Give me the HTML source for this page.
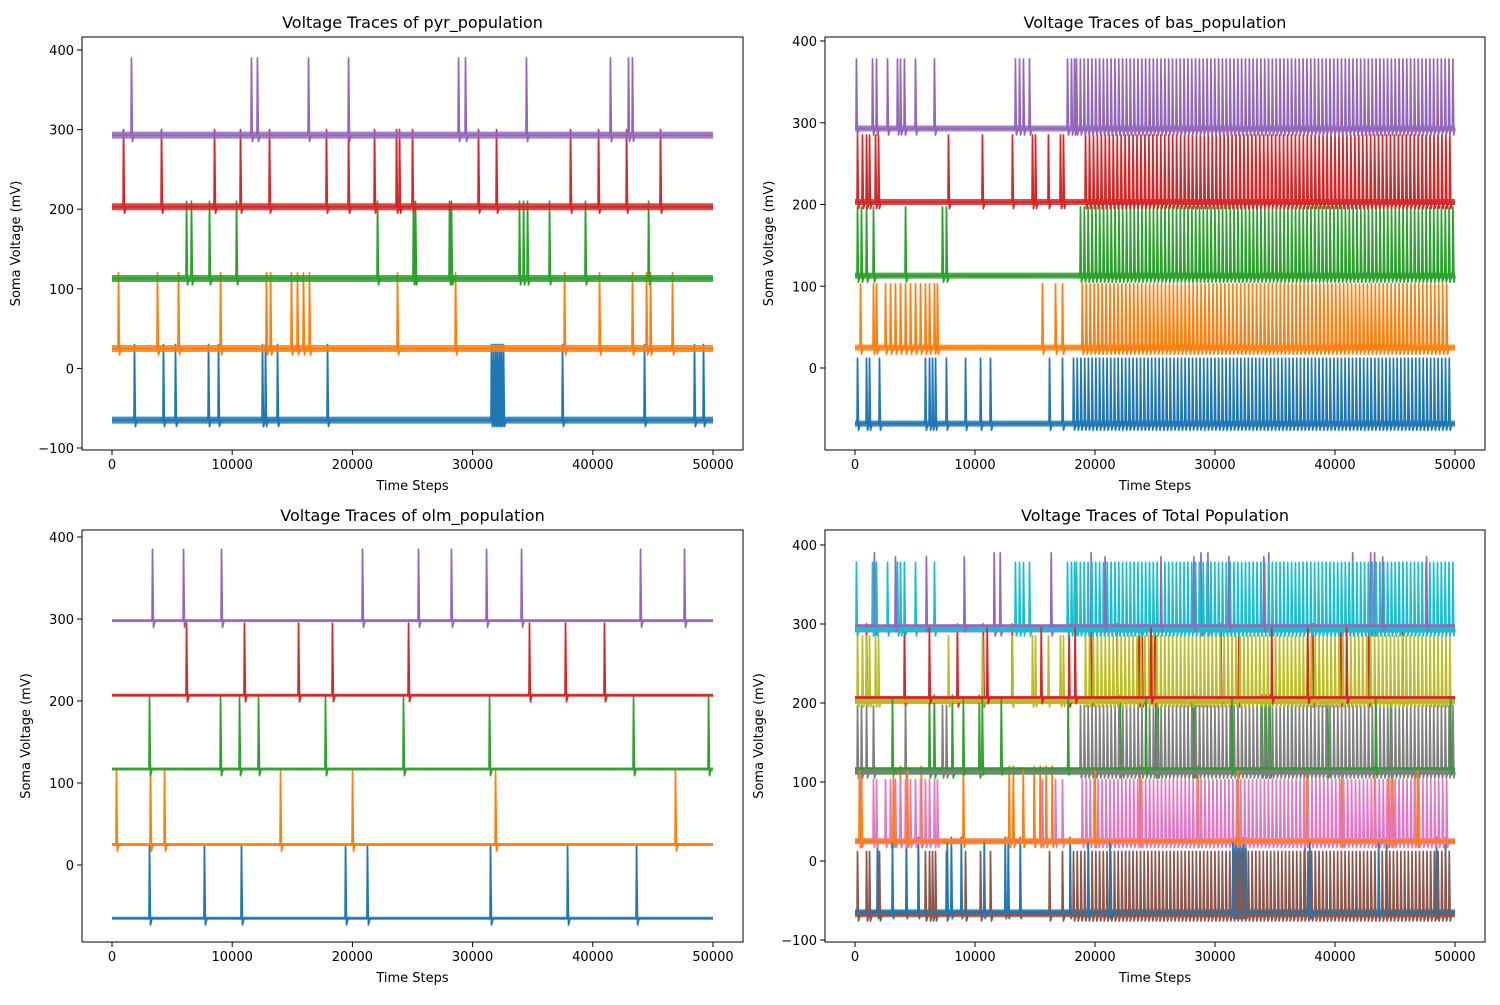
<!DOCTYPE html>
<html><head><meta charset="utf-8"><style>
body{margin:0;background:#fff;font-family:"Liberation Sans","DejaVu Sans",sans-serif;}
svg text{font-family:"DejaVu Sans","Liberation Sans",sans-serif;}
</style></head><body>
<svg id="fig" width="1500" height="1000" viewBox="0 0 1500 1000"></svg>
<script>
// ---- data ----
const pyrBase=[-65,25,113,203,293];
const pyrPeak=[30,120,210,300,390];
const pyrSpikes=[
[1830,4240,5240,7990,8820,12480,12730,13730,17890,31530,31700,31870,32030,32200,32360,32530,37440,44260,48420,49170],
[500,3740,5490,8990,12810,13150,14890,15390,15890,16390,23710,28540,37610,40520,43260,44430,44760,46590],
[6160,6570,8070,10320,22050,25040,25210,28040,28200,33860,34200,34530,36360,39350,44600],
[920,4080,8490,10650,13060,17800,19640,21800,23630,23880,24960,30450,31950,38110,40440,42770,45590],
[1580,11560,12060,16310,19640,28790,29370,34440,41430,42930,43260]];
const basBase=[-68,25,113,203,293];
const basPeak=[12,103,197,285,378];
const basSpikes=[
[170,920,1170,2000,5830,6170,6420,6670,7580,9170,10420,11250,16170,17250],
[420,1500,1750,2500,2920,3330,3750,4170,4580,5000,5420,5830,6170,6580,6830,15580,16670,17250],
[170,500,920,1500,4170,7250,7580],
[170,580,920,1170,1670,1920,7750,10580,13080,14750,15000,16080,17080,17330],
[80,1420,1750,2670,3500,3750,4080,5000,6580,13330,13670,14000,14500,17670,18000,18250]];
const basDenseStart=[18170,18900,18750,19170,18420];
const basDenseEnd=[49580,49400,50000,49580,50000];
const basDensePeriod=[310,330,320,330,320];
const olmBase=[-65,25,117,207,298];
const olmPeak=[25,115,205,295,385];
const olmSpikes=[
[3080,7650,10730,19390,21210,31450,37860,43600],
[330,3160,4330,13980,19970,31870,46840],
[3080,8990,10570,12150,17720,24210,31370,43350,49590],
[6160,10980,15480,18300,24630,34690,37690,40930],
[3330,5910,9070,20800,25460,28200,31120,34030,43930,47590]];
const xTicks=[0,10000,20000,30000,40000,50000];
const colors=['#1f77b4','#ff7f0e','#2ca02c','#d62728','#9467bd','#8c564b','#e377c2','#7f7f7f','#bcbd22','#17becf'];

const basAll=basSpikes.map((s,i)=>{const a=s.slice();for(let t=basDenseStart[i];t<=basDenseEnd[i];t+=basDensePeriod[i])a.push(t);return a;});

const NS='http://www.w3.org/2000/svg';
const svg=document.getElementById('fig');
function el(tag,attrs,parent){const e=document.createElementNS(NS,tag);for(const k in attrs)e.setAttribute(k,attrs[k]);(parent||svg).appendChild(e);return e;}

const panels=[
{title:'Voltage Traces of pyr_population',L:82,T:37,R:743,B:450,x0:112,x1:713,ya:400,yaP:50,yb:-100,ybP:448,yt:[-100,0,100,200,300,400],name:'pyr-panel'},
{title:'Voltage Traces of bas_population',L:825,T:37,R:1485,B:450,x0:855,x1:1455,ya:400,yaP:41,yb:0,ybP:368,yt:[0,100,200,300,400],name:'bas-panel'},
{title:'Voltage Traces of olm_population',L:82,T:530,R:743,B:942,x0:112,x1:713,ya:400,yaP:537,yb:0,ybP:865,yt:[0,100,200,300,400],name:'olm-panel'},
{title:'Voltage Traces of Total Population',L:825,T:530,R:1485,B:942,x0:855,x1:1455,ya:400,yaP:545,yb:-100,ybP:940,yt:[-100,0,100,200,300,400],name:'total-panel'}];

function drawTrace(g,p,base,peak,spikes,color,band,nm){
  const X=t=>p.x0+(p.x1-p.x0)*t/50000;
  const Y=v=>p.ybP+(v-p.yb)*(p.yaP-p.ybP)/(p.ya-p.yb);
  const b=el('line',{x1:X(0),x2:X(50000),y1:Y(base),y2:Y(base),stroke:color,'stroke-width':band,'stroke-opacity':0.85},g);
  
  
  const s=spikes.slice().sort((a,b)=>a-b);
  let d='M'+X(0)+' '+Y(base);
  s.forEach(t=>{d+=' L'+X(t)+' '+Y(base)+' L'+X(t+40)+' '+Y(peak)+' L'+X(t+120)+' '+Y(base-8)+' L'+X(Math.min(t+260,50000))+' '+Y(base);});
  d+=' L'+X(50000)+' '+Y(base);
  const path=el('path',{d:d,fill:'none',stroke:color,'stroke-width':1.7,'stroke-linejoin':'round'},g);
  
  
}

panels.forEach((p,pi)=>{
  const g=el('g',{});
  
  
  const X=t=>p.x0+(p.x1-p.x0)*t/50000;
  const Y=v=>p.ybP+(v-p.yb)*(p.yaP-p.ybP)/(p.ya-p.yb);
  const cp=el('clipPath',{id:'c'+pi},g);
  el('rect',{x:p.L,y:p.T,width:p.R-p.L,height:p.B-p.T},cp);
  const dg=el('g',{'clip-path':'url(#c'+pi+')'},g);
  if(pi===0)for(let i=0;i<5;i++)drawTrace(dg,p,pyrBase[i],pyrPeak[i],pyrSpikes[i],colors[i],7,'pyr-trace-'+i);
  if(pi===1)for(let i=0;i<5;i++)drawTrace(dg,p,basBase[i],basPeak[i],basAll[i],colors[i],6,'bas-trace-'+i);
  if(pi===2)for(let i=0;i<5;i++)drawTrace(dg,p,olmBase[i],olmPeak[i],olmSpikes[i],colors[i],3,'olm-trace-'+i);
  if(pi===3){
    for(let i=0;i<5;i++)drawTrace(dg,p,pyrBase[i],pyrPeak[i],pyrSpikes[i],colors[i],6,'total-pyr-trace-'+i);
    for(let i=0;i<5;i++)drawTrace(dg,p,basBase[i],basPeak[i],basAll[i],colors[i+5],5,'total-bas-trace-'+i);
    for(let i=0;i<5;i++)drawTrace(dg,p,olmBase[i],olmPeak[i],olmSpikes[i],colors[i],3,'total-olm-trace-'+i);
  }
  const fr=el('rect',{x:p.L,y:p.T,width:p.R-p.L,height:p.B-p.T,fill:'none',stroke:'#000','stroke-width':1},g);
  
  
  xTicks.forEach(t=>{
    el('line',{x1:X(t),x2:X(t),y1:p.B,y2:p.B+5,stroke:'#000'},g);
    const tx=el('text',{x:X(t),y:p.B+19,'text-anchor':'middle','font-size':13},g);
    tx.textContent=t;
    
    
  });
  p.yt.forEach(v=>{
    el('line',{x1:p.L-5,x2:p.L,y1:Y(v),y2:Y(v),stroke:'#000'},g);
    const tx=el('text',{x:p.L-8,y:Y(v)+5,'text-anchor':'end','font-size':13},g);
    tx.textContent=(v<0?'\u2212'+(-v):v);
    
    
  });
  const ti=el('text',{x:(p.L+p.R)/2,y:p.T-9,'text-anchor':'middle','font-size':16},g);
  ti.textContent=p.title;
  
  
  const xl=el('text',{x:(p.L+p.R)/2,y:p.B+40,'text-anchor':'middle','font-size':13},g);
  xl.textContent='Time Steps';
  
  
  const yx=p.L-(p.yt[0]<0?62:52), yc=(p.T+p.B)/2;
  const yl=el('text',{x:yx,y:yc,'text-anchor':'middle','font-size':13,transform:'rotate(-90 '+yx+' '+yc+')'},g);
  yl.textContent='Soma Voltage (mV)';
  
  
});
</script>
</body></html>
